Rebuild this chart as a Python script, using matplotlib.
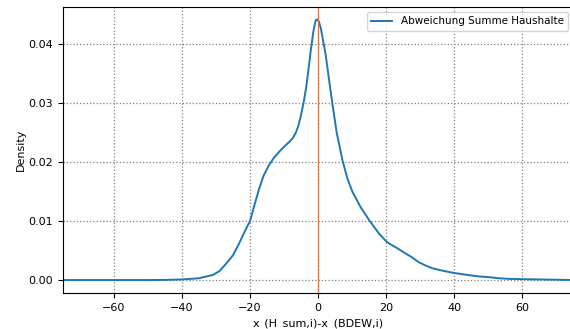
import matplotlib
matplotlib.use("Agg")
import matplotlib.pyplot as plt

# KDE curve
x_vals = [-75, -60, -50, -45, -40, -35, -31, -29, -27, -25, -23.2, -21.5, -20, -18.7, -17.4,
          -16, -14.4, -13, -11.5, -10, -8.5, -7.5, -6.6, -5.8, -5.1, -4.1, -3.4, -2.7, -2.0,
          -1.4, -0.9, -0.6, -0.2, 0.3, 0.9, 1.5, 2.2, 3.2, 4.2, 5.5, 7.2, 8.6, 10.1, 12.5,
          15, 17.9, 20, 20.9, 23, 25.8, 27.5, 29.7, 31.5, 33.6, 36.5, 40, 43.5, 47.4, 50,
          53.2, 56, 60, 65, 70, 75]
density = [0.0, 0.0, 0.0, 0.00002, 0.0001, 0.0003, 0.00085, 0.0015, 0.0028, 0.0042, 0.0062,
           0.0083, 0.0100, 0.0127, 0.0153, 0.0177, 0.0195, 0.0207, 0.0217, 0.0226, 0.0234,
           0.0240, 0.0249, 0.0261, 0.0277, 0.0305, 0.0330, 0.0362, 0.0395, 0.0420, 0.0435,
           0.0441, 0.0442, 0.0438, 0.0425, 0.0406, 0.0384, 0.0342, 0.0300, 0.0250, 0.0203,
           0.0173, 0.0150, 0.0124, 0.0102, 0.0079, 0.0066, 0.0062, 0.0055, 0.0045, 0.0039,
           0.0030, 0.0025, 0.0020, 0.0016, 0.0012, 0.0009, 0.0006, 0.0005, 0.0003, 0.0002,
           0.00015, 0.0001, 0.00005, 0.0]
series_label = "Abweichung Summe Haushalte"
x_label = "x_(H_sum,i)-x_(BDEW,i)"
y_label = "Density"
ref_x = 0

plt.rcParams["font.size"] = 8
fig = plt.figure(figsize=(5.70, 3.29), dpi=100)
ax = fig.add_axes([63/570, 1-293/329, (573-63)/570, (293-7)/329])
ax.plot(x_vals, density, color="#1f77b4", lw=1.4, label=series_label)
ax.axvline(ref_x, color="#d9784a", lw=0.9)
ax.set_xlim(-75, 75)
ax.set_ylim(-0.0022, 0.0463)
ax.set_xticks([-60, -40, -20, 0, 20, 40, 60])
ax.set_yticks([0.0, 0.01, 0.02, 0.03, 0.04])
ax.set_yticklabels(["0.00", "0.01", "0.02", "0.03", "0.04"])
ax.grid(True, color="grey", linestyle=":", lw=0.9)
ax.set_xlabel(x_label)
ax.set_ylabel(y_label, labelpad=2)
ax.legend(loc="upper right", fontsize=7.5)
fig.savefig("out.png", dpi=100)
